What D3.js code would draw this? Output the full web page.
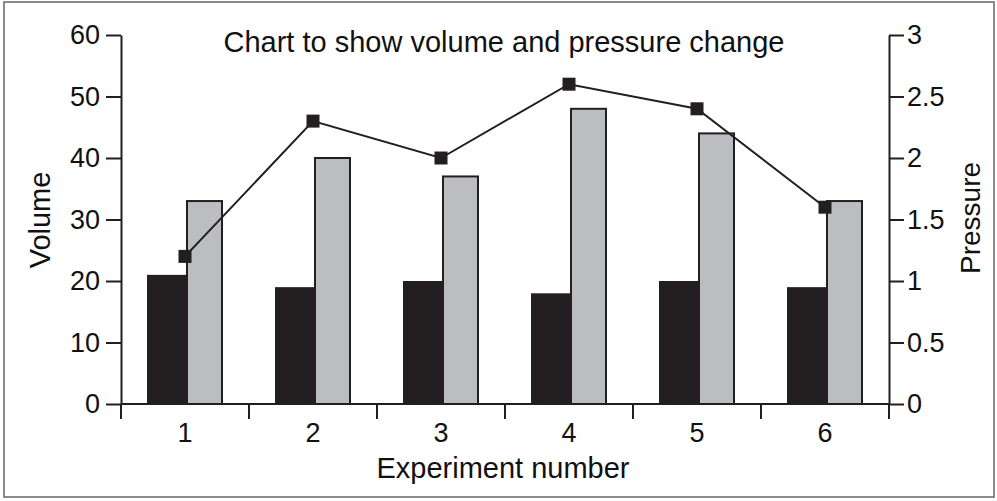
<!DOCTYPE html>
<html><head><meta charset="utf-8">
<script src="https://cdn.jsdelivr.net/npm/d3@7"></script>
<style>body{margin:0;background:#fff}svg{display:block}text{font-family:"Liberation Sans",Arial,sans-serif;fill:#111}</style>
</head><body>
<svg id="c" width="997" height="501"></svg>
<script>
const categories = ["1","2","3","4","5","6"];
const volumeA = [21, 19, 20, 18, 20, 19];      // black bars
const volumeB = [33, 40, 37, 48, 44, 33];      // grey bars
const pressure = [1.2, 2.3, 2.0, 2.6, 2.4, 1.6];
const leftTicks = [0,10,20,30,40,50,60];
const rightTicks = [0,0.5,1,1.5,2,2.5,3];

const svg = d3.select("#c");
const ink = "#231f20";
const L = 121, R = 889, T = 35, B = 404;
const FONT = '"Liberation Sans",Arial,sans-serif';

svg.append("rect").attr("x",4).attr("y",2).attr("width",990).attr("height",495)
  .attr("fill","none").attr("stroke","#666").attr("stroke-width",1.5);

const x = d3.scaleBand().domain(categories).range([L,R]);
const yL = d3.scaleLinear().domain([0,60]).range([B,T]);
const yR = d3.scaleLinear().domain([0,3]).range([B,T]);
const c = d => x(d) + x.bandwidth()/2;

// bars
svg.append("g").selectAll("rect").data(categories).join("rect")
  .attr("x", d => c(d) - 38).attr("width", 40)
  .attr("y", (d,i) => yL(volumeA[i])).attr("height", (d,i) => B - yL(volumeA[i]))
  .attr("fill", ink);
svg.append("g").selectAll("rect").data(categories).join("rect")
  .attr("x", d => c(d) + 2).attr("width", 35)
  .attr("y", (d,i) => yL(volumeB[i])).attr("height", (d,i) => B - yL(volumeB[i]))
  .attr("fill", "#bcbdc0").attr("stroke", ink).attr("stroke-width", 2);

function styleAxis(g){
  g.selectAll("path,line").attr("stroke", ink).attr("stroke-width", 2);
  g.selectAll("text").attr("fill","#111").style("font-family",FONT).style("font-size","27px");
}
// x axis
svg.append("line").attr("x1",L).attr("x2",R).attr("y1",B).attr("y2",B).attr("stroke",ink).attr("stroke-width",2);
svg.append("g").selectAll("line").data(d3.range(categories.length+1)).join("line")
  .attr("x1", i => L + i*x.bandwidth()).attr("x2", i => L + i*x.bandwidth())
  .attr("y1", B).attr("y2", B+15).attr("stroke", ink).attr("stroke-width", 2);
svg.append("g").selectAll("text").data(categories).join("text")
  .attr("x", d => c(d)).attr("y", 442).attr("text-anchor","middle")
  .style("font-size","27px").text(d => d);

const al = svg.append("g").attr("transform",`translate(${L},0)`)
  .call(d3.axisLeft(yL).tickValues(leftTicks).tickSize(15).tickPadding(6).tickSizeOuter(0));
styleAxis(al);

const ar = svg.append("g").attr("transform",`translate(${R},0)`)
  .call(d3.axisRight(yR).tickValues(rightTicks).tickFormat(d3.format("")).tickSize(15).tickPadding(3).tickSizeOuter(0));
styleAxis(ar);

// line
const line = d3.line().x((d,i) => c(categories[i])).y(d => yR(d));
svg.append("path").datum(pressure).attr("d", line).attr("fill","none")
  .attr("stroke", ink).attr("stroke-width", 2);
svg.append("g").selectAll("rect").data(pressure).join("rect")
  .attr("x", (d,i) => c(categories[i]) - 6.5).attr("y", d => yR(d) - 6.5)
  .attr("width", 13).attr("height", 13).attr("fill", ink);

// text
svg.append("text").attr("x", 504).attr("y", 52).attr("text-anchor","middle")
  .style("font-size","29px").text("Chart to show volume and pressure change");
svg.append("text").attr("x", 503).attr("y", 478).attr("text-anchor","middle")
  .style("font-size","29px").text("Experiment number");
svg.append("text").attr("transform","translate(50,220) rotate(-90)").attr("text-anchor","middle")
  .style("font-size","29px").text("Volume");
svg.append("text").attr("transform","translate(980,218) rotate(-90)").attr("text-anchor","middle")
  .style("font-size","28px").text("Pressure");
</script>
</body></html>
